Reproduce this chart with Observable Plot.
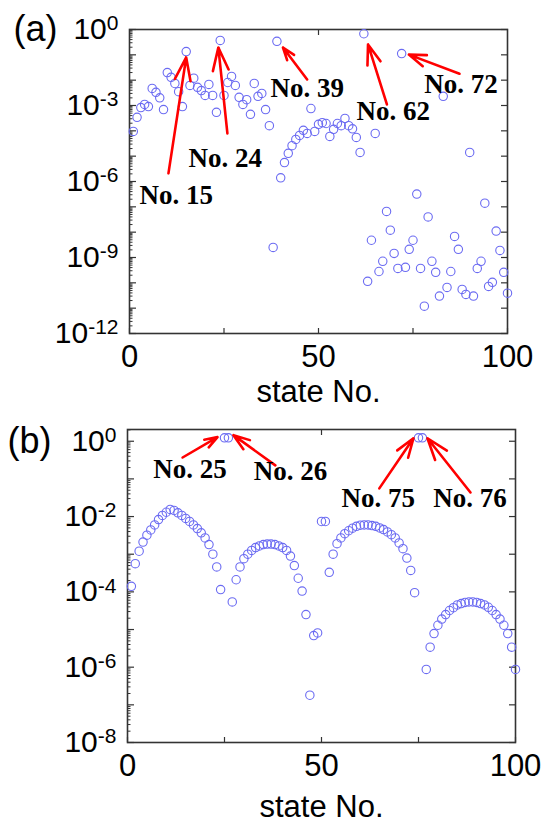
<!DOCTYPE html>
<html><head><meta charset="utf-8">
<script src="https://cdn.jsdelivr.net/npm/d3@7"></script>
<script src="https://cdn.jsdelivr.net/npm/@observablehq/plot@0.6"></script>
<style>
html,body{margin:0;padding:0;background:#fff;}
#chart{width:559px;height:825px;position:relative;overflow:hidden;background:#fff;}
#chart svg{display:block;overflow:visible;}
</style></head><body><div id="chart"></div>
<script>
// state numbers 1..100
const states = d3.range(1, 101);

// panel (a) probabilities
const probA = [
 9.5e-5, 3.4e-4, 8.3e-4, 1.1e-3, 9.1e-4, 4.7e-3, 3.3e-3, 2.0e-3, 6.9e-4, 2.0e-2,
 1.3e-2, 7.4e-3, 3.5e-3, 9.1e-4, 0.135, 6.2e-3, 1.2e-2, 5.2e-3, 3.9e-3, 2.5e-3,
 6.8e-3, 2.5e-3, 5.4e-4, 0.37, 2.5e-3, 8.1e-3, 1.4e-2, 6.2e-3, 2.1e-3, 1.1e-3,
 1.7e-3, 4.5e-4, 7.4e-3, 2.3e-3, 3.0e-3, 6.9e-4, 1.6e-4, 2.5e-9, 0.34, 1.4e-6,
 5.6e-6, 1.3e-5, 2.6e-5, 4.6e-5, 6.6e-5, 1.05e-4, 7.9e-5, 7.6e-4, 9.5e-5, 1.8e-4,
 2.1e-4, 1.95e-4, 6.0e-5, 1.15e-4, 1.95e-4, 1.6e-4, 3.1e-4, 1.6e-4, 1.2e-4, 5.5e-5,
 1.4e-5, 0.68, 1.15e-10, 4.8e-9, 7.9e-5, 2.8e-10, 7.1e-10, 6.6e-8, 1.2e-8, 1.45e-9,
 3.7e-10, 0.112, 4.1e-10, 2.1e-9, 4.8e-9, 3.2e-7, 3.7e-10, 1.2e-11, 4.0e-8, 7.1e-10,
 2.6e-10, 3.0e-11, 2.3e-3, 6.6e-11, 2.8e-10, 6.8e-9, 2.1e-9, 5.5e-11, 3.5e-11, 1.4e-5,
 3.0e-11, 3.7e-10, 7.1e-10, 1.4e-7, 7.2e-11, 1.05e-10, 1.1e-8, 1.9e-9, 2.6e-10, 3.9e-11
];

// panel (b) probabilities
const probB = [
 1.4e-4, 5.6e-4, 1.2e-3, 2.1e-3, 3.2e-3, 4.4e-3, 6.0e-3, 8.3e-3, 1.07e-2, 1.3e-2,
 1.55e-2, 1.45e-2, 1.26e-2, 1.07e-2, 8.9e-3, 7.4e-3, 6.0e-3, 4.8e-3, 3.7e-3, 2.7e-3,
 1.8e-3, 1.0e-3, 4.6e-4, 1.15e-4, 1.23, 1.23, 5.4e-5, 2.1e-4, 4.6e-4, 7.6e-4,
 1.0e-3, 1.26e-3, 1.5e-3, 1.66e-3, 1.8e-3, 1.86e-3, 1.86e-3, 1.8e-3, 1.66e-3, 1.5e-3,
 1.26e-3, 8.9e-4, 5.0e-4, 2.3e-4, 1.05e-4, 2.5e-5, 1.8e-7, 6.9e-6, 8.1e-6, 7.4e-3,
 7.4e-3, 3.3e-4, 1.0e-3, 1.9e-3, 2.7e-3, 3.5e-3, 4.2e-3, 4.9e-3, 5.5e-3, 5.9e-3,
 6.0e-3, 6.0e-3, 5.75e-3, 5.5e-3, 5.0e-3, 4.5e-3, 3.9e-3, 3.3e-3, 2.7e-3, 2.0e-3,
 1.4e-3, 7.9e-4, 3.7e-4, 9.5e-5, 1.23, 1.23, 8.7e-7, 3.4e-6, 7.8e-6, 1.3e-5,
 1.9e-5, 2.5e-5, 3.2e-5, 3.8e-5, 4.5e-5, 4.9e-5, 5.25e-5, 5.4e-5, 5.4e-5, 5.25e-5,
 4.9e-5, 4.5e-5, 3.9e-5, 3.2e-5, 2.5e-5, 1.9e-5, 1.3e-5, 7.8e-6, 3.4e-6, 8.7e-7
];

// tick labels
const xTickLabels = [0, 50, 100];
const xTicksBottom = [0, 25, 50, 75, 100];
const xTicksTop = [50];
const yLabelsA = [1, 1e-3, 1e-6, 1e-9, 1e-12];
const yLabelsB = [1, 1e-2, 1e-4, 1e-6, 1e-8];
const yDecadesA = [1, 1e-1, 1e-2, 1e-3, 1e-4, 1e-5, 1e-6, 1e-7, 1e-8, 1e-9, 1e-10, 1e-11, 1e-12];
const yDecadesB = [1, 1e-1, 1e-2, 1e-3, 1e-4, 1e-5, 1e-6, 1e-7, 1e-8];
const yDomainA = [1e-12, 1];
const yDomainB = [1e-8, 2.05];
const xTitle = "state No.";

// annotations (data coordinates)
const annA = [
 {label: "No. 15", x: 12.4, y: 1.26e-7},
 {label: "No. 24", x: 25.3, y: 3.6e-6},
 {label: "No. 39", x: 47.0, y: 2.1e-3},
 {label: "No. 62", x: 69.8, y: 2.6e-4},
 {label: "No. 72", x: 87.7, y: 3.0e-3}
];
const arrowsA = [
 {x1: 10.3, y1: 2.1e-6, x2: 15.0, y2: 0.079},
 {x1: 25.9, y1: 7.9e-5, x2: 23.5, y2: 0.195},
 {x1: 47.0, y1: 0.0107, x2: 40.6, y2: 0.195},
 {x1: 68.1, y1: 1.1e-3, x2: 63.1, y2: 0.257},
 {x1: 87.3, y1: 0.018, x2: 73.9, y2: 0.102}
];
const annB = [
 {label: "No. 25", x: 16.1, y: 0.105},
 {label: "No. 26", x: 42.0, y: 0.091},
 {label: "No. 75", x: 64.6, y: 0.0174},
 {label: "No. 76", x: 88.3, y: 0.0174}
];
const arrowsB = [
 {x1: 14.2, y1: 0.37, x2: 23.2, y2: 1.29},
 {x1: 38.1, y1: 0.229, x2: 27.3, y2: 1.45},
 {x1: 64.9, y1: 0.056, x2: 73.7, y2: 1.2},
 {x1: 88.4, y1: 0.0437, x2: 77.3, y2: 1.2}
];

function minorTicks(domain) {
  const out = [];
  const lo = Math.round(Math.log10(domain[0]));
  const hi = Math.ceil(Math.log10(domain[1]));
  for (let e = lo; e < hi; e++) for (let m = 2; m <= 9; m++) {
    const v = m * Math.pow(10, e);
    if (v <= domain[1]) out.push(v);
  }
  return out;
}

const SANS = "'Liberation Sans', Arial, sans-serif";
const SERIF = "'Liberation Serif', 'Times New Roman', serif";
const DOT = "#6b6bf2";
const FRAME = "#333";

function panel({probs, yDomain, yLabels, yDecades, height, mTop, mBottom, mLeft, mRight, ann, arrows, tag, tagDx, titleDy}) {
  const data = states.map((s, i) => ({state: s, p: probs[i]}));
  const svg = Plot.plot({
    width: 559, height,
    marginTop: mTop, marginBottom: mBottom, marginLeft: mLeft, marginRight: mRight,
    style: {fontFamily: SANS, background: "#fff", color: "#000"},
    x: {domain: [0, 100]},
    y: {type: "log", domain: yDomain},
    marks: [
      Plot.axisY({ticks: yDecades, anchor: "left", tickSize: -7, fill: "none", stroke: FRAME, strokeWidth: 1.2, label: null}),
      Plot.axisY({ticks: minorTicks(yDomain), anchor: "left", tickSize: -3.5, fill: "none", stroke: FRAME, strokeWidth: 1, label: null}),
      Plot.axisY({ticks: yDecades, anchor: "right", tickSize: -7, fill: "none", stroke: FRAME, strokeWidth: 1.2, label: null}),
      Plot.axisY({ticks: yLabels, anchor: "left", tickSize: 0, tickPadding: 11, fontSize: 30, fill: "#000",
        tickFormat: d => "10^" + Math.round(Math.log10(d)), label: null}),
      Plot.axisX({ticks: xTicksBottom, anchor: "bottom", tickSize: -5, fill: "none", stroke: FRAME, strokeWidth: 1.2, label: null}),
      Plot.axisX({ticks: xTicksTop, anchor: "top", tickSize: -5, fill: "none", stroke: FRAME, strokeWidth: 1.2, label: null}),
      Plot.axisX({ticks: xTickLabels, anchor: "bottom", tickSize: 0, tickPadding: 11, fontSize: 31, fill: "#000", label: null}),
      Plot.text([xTitle], {frameAnchor: "bottom", dy: titleDy, fontSize: 31, fill: "#000", lineAnchor: "middle"}),
      Plot.text([{y: 1, t: tag}], {y: "y", text: "t", frameAnchor: "left", dx: tagDx, textAnchor: "start", fontSize: 36, fill: "#000", lineAnchor: "middle"}),
      Plot.frame({stroke: FRAME, strokeWidth: 1.6}),
      Plot.dot(data, {x: "state", y: "p", r: 4.2, stroke: DOT, fill: "none", strokeWidth: 1.1}),
      Plot.arrow(arrows, {x1: "x1", y1: "y1", x2: "x2", y2: "y2", stroke: "#ff0000", strokeWidth: 2.6, headLength: 14, headAngle: 38}),
      Plot.text(ann, {x: "x", y: "y", text: "label", fontFamily: SERIF, fontWeight: "bold", fontSize: 27, fill: "#000", lineAnchor: "bottom", textAnchor: "middle"})
    ]
  });
  svg.querySelectorAll('g[aria-label="y-axis tick label"] text').forEach(t => {
    const s = t.textContent;
    if (!s.includes("^")) return;
    const [base, exp] = s.split("^");
    t.textContent = base;
    const ts = document.createElementNS("http://www.w3.org/2000/svg", "tspan");
    ts.setAttribute("dy", "-0.42em");
    ts.setAttribute("font-size", "21");
    ts.textContent = exp;
    t.appendChild(ts);
  });
  return svg;
}

const root = document.getElementById("chart");
root.appendChild(panel({
  probs: probA, yDomain: yDomainA, yLabels: yLabelsA, yDecades: yDecadesA,
  height: 400, mTop: 29, mBottom: 67, mLeft: 129, mRight: 52,
  ann: annA, arrows: arrowsA, tag: "(a)", tagDx: -116, titleDy: 59
}));
root.appendChild(panel({
  probs: probB, yDomain: yDomainB, yLabels: yLabelsB, yDecades: yDecadesB,
  height: 425, mTop: 29, mBottom: 83, mLeft: 127, mRight: 44,
  ann: annB, arrows: arrowsB, tag: "(b)", tagDx: -120, titleDy: 65
}));
</script></body></html>
